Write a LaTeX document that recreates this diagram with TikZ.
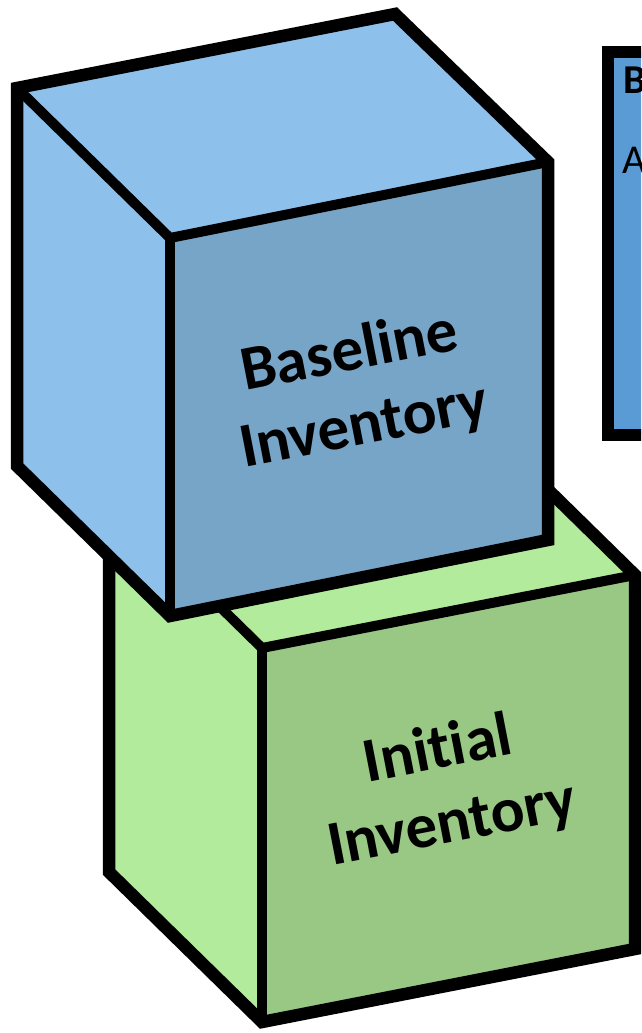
\documentclass[tikz,border=0pt]{standalone}
\usepackage{fontspec}
\setmainfont{Carlito}[Ligatures={NoCommon}]
\usepackage{tikz}
\usetikzlibrary{positioning}
\definecolor{baseTop}{RGB}{141, 193, 235}
\definecolor{baseFront}{RGB}{119, 165, 200}
\definecolor{initTop}{RGB}{178, 235, 156}
\definecolor{initFront}{RGB}{152, 200, 132}
\definecolor{noteBlue}{RGB}{91, 155, 213}

\begin{document}
\begin{tikzpicture}[
    x=1pt, y=-1pt,
    % Face styles
    face/.style={
        fill=#1,
        draw=none
    },
    % Outline of a cube
    outline/.style={
        draw=black,
        line width=12.5pt,
        line join=miter
    },
    % Inner cube edges
    edge/.style={
        draw=black,
        line width=10pt,
        line cap=butt
    },
    % Label on a front face
    facelabel/.style={
        font=\fontsize{63}{75}\bfseries\selectfont,
        align=center,
        rotate=11
    },
    % Side note box
    notebox/.style={
        draw=black,
        fill=noteBlue,
        line width=12pt
    },
    notetext/.style={
        font=\fontsize{41}{48}\selectfont,
        anchor=base west,
        inner sep=0pt
    }
]
\useasboundingbox (0,0) rectangle (641,1033);
\clip (0,0) rectangle (641,1033);

% ============================================
% SIDE NOTE (cut off at the right)
% ============================================
\node[notebox, minimum width=130pt, minimum height=383pt, anchor=north west,
      inner sep=0pt] (note) at (602,46) {};
\node[notetext, font=\fontsize{41}{48}\bfseries\selectfont] (notehead) at (623,93) {B};
\node[notetext] (notebody) at (622,173) {A};

% ============================================
% LOWER CUBE: INITIAL INVENTORY
% ============================================
\coordinate (iA) at (109,498);
\coordinate (iB) at (482,425);
\coordinate (iC) at (635,575);
\coordinate (iD) at (262,648);
\coordinate (iE) at (262,1022);
\coordinate (iF) at (635,949);
\coordinate (iG) at (109,872);

\fill[face=initTop] (iA) -- (iB) -- (iC) -- (iD) -- cycle;
\fill[face=initTop] (iA) -- (iD) -- (iE) -- (iG) -- cycle;
\fill[face=initFront] (iD) -- (iC) -- (iF) -- (iE) -- cycle;
\draw[edge] (iA) -- (iD) -- (iC);
\draw[edge] (iD) -- (iE);
\draw[outline] (iA) -- (iB) -- (iC) -- (iF) -- (iE) -- (iG) -- cycle;

\node[facelabel] (initial) at (445,788) {Initial\\Inventory};

% ============================================
% UPPER CUBE: BASELINE INVENTORY
% ============================================
\coordinate (bA) at (17,88);
\coordinate (bB) at (395,14);
\coordinate (bC) at (548,162);
\coordinate (bD) at (170,238);
\coordinate (bE) at (170,616);
\coordinate (bF) at (548,540);
\coordinate (bG) at (17,466);

\fill[face=baseTop] (bA) -- (bB) -- (bC) -- (bD) -- cycle;
\fill[face=baseTop] (bA) -- (bD) -- (bE) -- (bG) -- cycle;
\fill[face=baseFront] (bD) -- (bC) -- (bF) -- (bE) -- cycle;
\draw[edge] (bA) -- (bD) -- (bC);
\draw[edge] (bD) -- (bE);
\draw[outline] (bA) -- (bB) -- (bC) -- (bF) -- (bE) -- (bG) -- cycle;

\node[facelabel] (baseline) at (357,390) {Baseline\\Inventory};

\end{tikzpicture}
\end{document}
